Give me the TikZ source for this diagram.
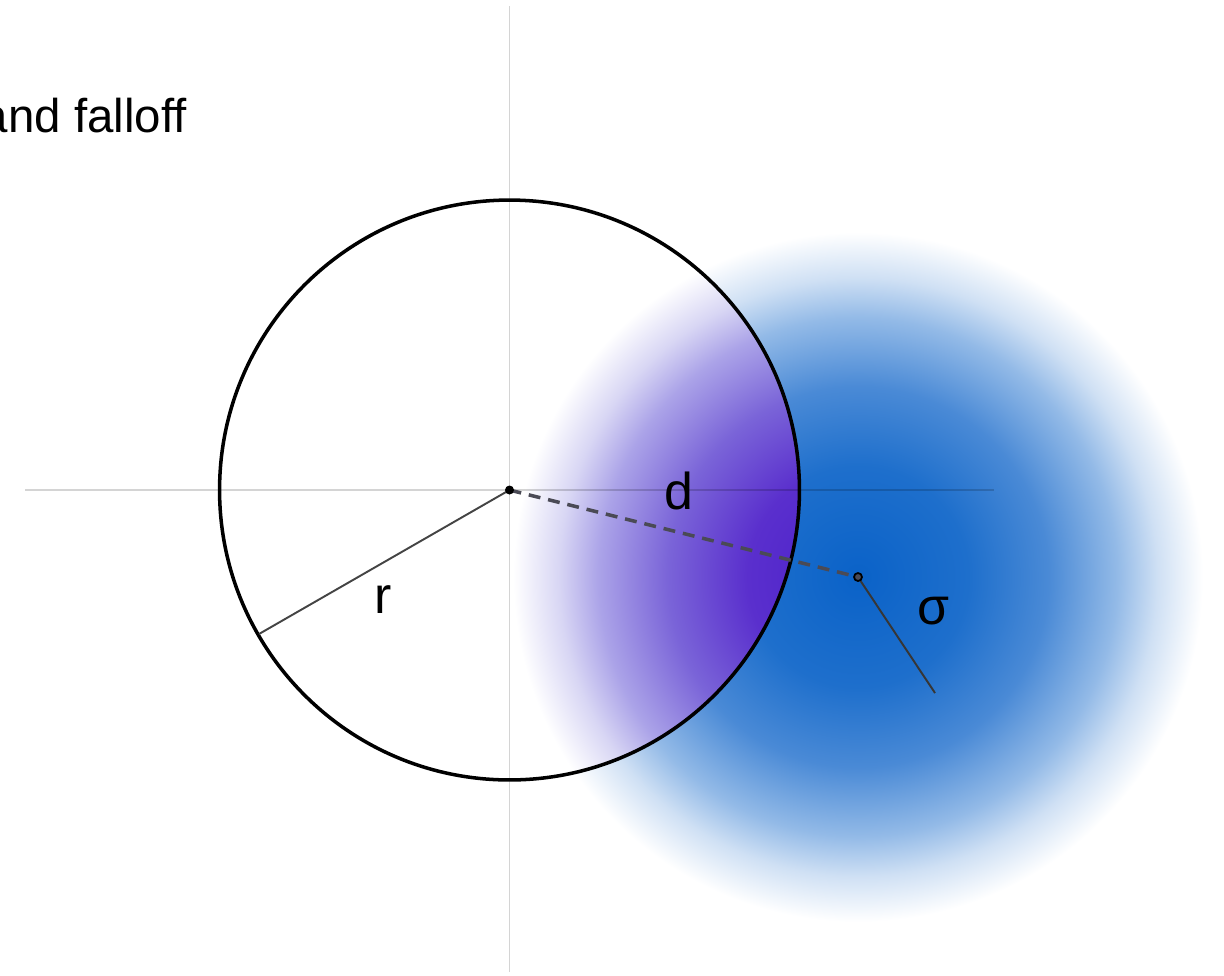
\documentclass[tikz,border=0pt]{standalone}
\usepackage{fontspec}
\setmainfont{Liberation Sans}
\usepackage{xcolor}
\usetikzlibrary{positioning,calc}

\definecolor{blobA}{HTML}{0A62C8}
\definecolor{blobB}{HTML}{1E6FCC}
\definecolor{blobC}{HTML}{4A8AD6}
\definecolor{blobD}{HTML}{93BAE7}
\definecolor{blobE}{HTML}{CFE0F4}
\definecolor{violA}{HTML}{4A1ECA}
\definecolor{violB}{HTML}{5A2FCD}
\definecolor{violC}{HTML}{7A64D8}
\definecolor{violD}{HTML}{ABA3E8}
\definecolor{violE}{HTML}{D8D6F4}
\definecolor{radgray}{HTML}{444444}
\definecolor{dashgray}{HTML}{4A4A55}

\pgfdeclareradialshading{blobshade}{\pgfpoint{0bp}{0bp}}{color(0bp)=(blobA); color(8bp)=(blobB); color(13.8bp)=(blobC); color(18.8bp)=(blobD); color(21.7bp)=(blobE); color(25bp)=(white); color(50bp)=(white)}
\pgfdeclareradialshading{violshade}{\pgfpoint{0bp}{0bp}}{color(0bp)=(violA); color(8bp)=(violB); color(13.8bp)=(violC); color(18.8bp)=(violD); color(21.7bp)=(violE); color(25bp)=(white); color(50bp)=(white)}

\newcommand{\lblfont}{\fontsize{29.5}{35}\selectfont}
\newcommand{\ttlfont}{\fontsize{27}{32}\selectfont}

\begin{document}
\begin{tikzpicture}[x=0.02cm,y=-0.02cm,
  axisline/.style={black,opacity=0.17,line width=1.1pt},
  lbl/.style={font=\lblfont,inner sep=0pt}]
  \useasboundingbox (0,0) rectangle (1224,975);
  \coordinate (O) at (509.5,490);
  \coordinate (S) at (858,577);
  \coordinate (rim) at (259,634);
  \coordinate (sigend) at (935,693);
  % gaussian blob
  \shade[shading=blobshade] (S) circle (6.9cm);
  % overlap inside the circle
  \begin{scope}
    \clip (O) circle (5.8cm);
    \shade[shading=violshade] (S) circle (6.9cm);
  \end{scope}
  % axes
  \coordinate (xl) at (25,490);
  \coordinate (xr) at (994,490);
  \coordinate (yt) at (509.5,6);
  \coordinate (yb) at (509.5,972);
  \draw[axisline] (xl)--(xr);
  \draw[axisline] (yt)--(yb);
  % circle of radius r
  \draw[black,line width=2pt] (O) circle (5.8cm);
  \draw[radgray,line width=1.1pt] (O)--(rim);
  \draw[dashgray,line width=2pt,dash pattern=on 6.8pt off 4.5pt] (O)--(S);
  \draw[radgray!80!black,line width=1.1pt] (S)--(sigend);
  \fill[black] (O) circle (0.09cm);
  \filldraw[fill=dashgray,draw=black,line width=1pt] (S) circle (0.08cm);
  % labels
  \node[lbl] (dlbl) at (679,491) {d};
  \node[lbl] (rlbl) at (383,600) {r};
  \node[lbl] (slbl) at (933,611) {σ};
  \node[font=\ttlfont,inner sep=0pt,anchor=base east] (title) at (187,132) {and falloff};
\end{tikzpicture}
\end{document}
